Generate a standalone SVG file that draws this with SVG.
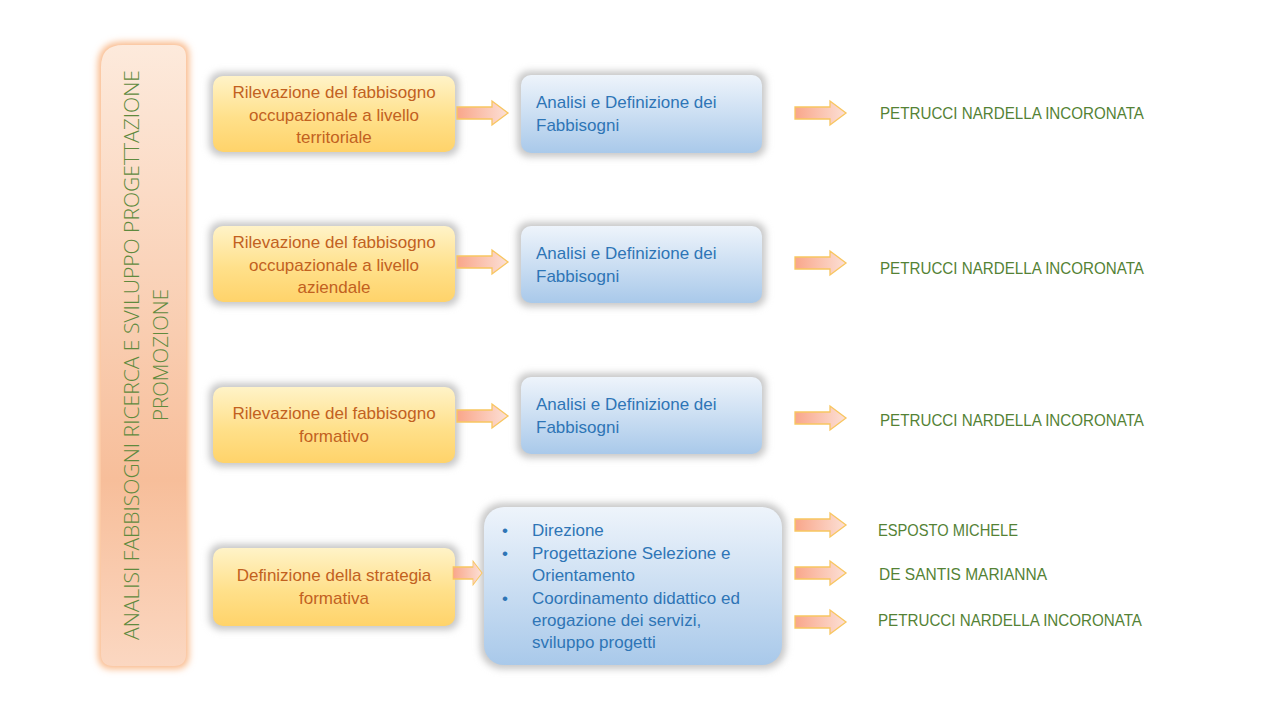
<svg xmlns="http://www.w3.org/2000/svg" width="1280" height="720" viewBox="0 0 1280 720">
<defs>
<linearGradient id="gOr" x1="0" y1="0" x2="0" y2="1">
<stop offset="0" stop-color="#FFF3C8"/><stop offset="0.55" stop-color="#FFE08A"/><stop offset="1" stop-color="#FFD36A"/>
</linearGradient>
<linearGradient id="gBl" x1="0" y1="0" x2="0" y2="1">
<stop offset="0" stop-color="#EEF4FB"/><stop offset="1" stop-color="#A9C9EA"/>
</linearGradient>
<linearGradient id="gBar" x1="0" y1="0" x2="0" y2="1">
<stop offset="0" stop-color="#FDEADC"/><stop offset="0.7" stop-color="#F7BE9A"/><stop offset="1" stop-color="#FBD7C1"/>
</linearGradient>
<linearGradient id="gAr" x1="0" y1="0" x2="1" y2="0">
<stop offset="0" stop-color="#F9A68A"/><stop offset="1" stop-color="#FCE0D6"/>
</linearGradient>
<filter id="glow" x="-20%" y="-30%" width="140%" height="160%">
<feGaussianBlur stdDeviation="3.5"/>
</filter>
<path id="arr" d="M0,-6 H35 V-12 L51,0 L35,12 V6 H0 Z"/>
</defs>
<style>
.halo{fill:#C8C8C8;filter:url(#glow)}
.or{fill:url(#gOr)}
.bl{fill:url(#gBl)}
.ar{fill:url(#gAr);stroke:#F8C660;stroke-width:1.3}
.to{font-family:"Liberation Sans",Arial,sans-serif;font-size:17px;fill:#C2611F;text-anchor:middle}
.tb{font-family:"Liberation Sans",Arial,sans-serif;font-size:17px;fill:#2E75B6}
.tn{font-family:"Liberation Sans",Arial,sans-serif;font-size:16.5px;fill:#548235}
.tl{font-family:"Open Sans","Liberation Sans",sans-serif;font-weight:300;font-size:21px;fill:#5F8A3E;text-anchor:middle}
</style>
<rect width="1280" height="720" fill="#FFFFFF"/>

<g id="bar">
<path d="M122,42 H175 Q189,42 189,56 V655 Q189,669 175,669 H112 Q98,669 98,655 V66 Q98,42 122,42 Z" fill="#F9B98A" filter="url(#glow)"/>
<path d="M123,45 H174 Q186,45 186,57 V654 Q186,666 174,666 H113 Q101,666 101,654 V67 Q101,45 123,45 Z" fill="url(#gBar)"/>
<text class="tl" transform="translate(139,355) rotate(-90)" textLength="570" lengthAdjust="spacingAndGlyphs">ANALISI FABBISOGNI RICERCA E SVILUPPO PROGETTAZIONE</text>
<text class="tl" transform="translate(168,355) rotate(-90)" textLength="132" lengthAdjust="spacingAndGlyphs">PROMOZIONE</text>
</g>

<g id="o1">
<rect class="halo" x="209" y="72" width="250" height="84" rx="12"/>
<rect class="or" x="213" y="76" width="242" height="76" rx="10"/>
<text class="to" x="334" y="98">Rilevazione del fabbisogno</text>
<text class="to" x="334" y="120.5">occupazionale a livello</text>
<text class="to" x="334" y="143">territoriale</text>
</g>
<g id="b1">
<rect class="halo" x="517" y="71" width="249" height="86" rx="12"/>
<rect class="bl" x="521" y="75" width="241" height="78" rx="10"/>
<text class="tb" x="536" y="108">Analisi e Definizione dei</text>
<text class="tb" x="536" y="131">Fabbisogni</text>
</g>
<g id="n1"><text class="tn" x="880" y="119" textLength="264" lengthAdjust="spacingAndGlyphs">PETRUCCI NARDELLA INCORONATA</text></g>

<g id="o2">
<rect class="halo" x="209" y="222" width="250" height="84" rx="12"/>
<rect class="or" x="213" y="226" width="242" height="76" rx="10"/>
<text class="to" x="334" y="248">Rilevazione del fabbisogno</text>
<text class="to" x="334" y="271">occupazionale a livello</text>
<text class="to" x="334" y="293">aziendale</text>
</g>
<g id="b2">
<rect class="halo" x="517" y="222" width="249" height="85" rx="12"/>
<rect class="bl" x="521" y="226" width="241" height="77" rx="10"/>
<text class="tb" x="536" y="259">Analisi e Definizione dei</text>
<text class="tb" x="536" y="282">Fabbisogni</text>
</g>
<g id="n2"><text class="tn" x="880" y="273.5" textLength="264" lengthAdjust="spacingAndGlyphs">PETRUCCI NARDELLA INCORONATA</text></g>

<g id="o3">
<rect class="halo" x="209" y="383" width="250" height="84" rx="12"/>
<rect class="or" x="213" y="387" width="242" height="76" rx="10"/>
<text class="to" x="334" y="419">Rilevazione del fabbisogno</text>
<text class="to" x="334" y="442">formativo</text>
</g>
<g id="b3">
<rect class="halo" x="517" y="373" width="249" height="85" rx="12"/>
<rect class="bl" x="521" y="377" width="241" height="77" rx="10"/>
<text class="tb" x="536" y="410">Analisi e Definizione dei</text>
<text class="tb" x="536" y="433">Fabbisogni</text>
</g>
<g id="n3"><text class="tn" x="880" y="425.5" textLength="264" lengthAdjust="spacingAndGlyphs">PETRUCCI NARDELLA INCORONATA</text></g>

<g id="o4">
<rect class="halo" x="209" y="544" width="250" height="86" rx="12"/>
<rect class="or" x="213" y="548" width="242" height="78" rx="10"/>
<text class="to" x="334" y="581">Definizione della strategia</text>
<text class="to" x="334" y="604">formativa</text>
</g>
<g id="b4">
<rect class="halo" x="480" y="503" width="306" height="166" rx="22"/>
<rect class="bl" x="484" y="507" width="298" height="158" rx="20"/>
<g class="tb">
<text x="502" y="536">•</text><text x="532" y="536">Direzione</text>
<text x="502" y="559">•</text><text x="532" y="559">Progettazione Selezione e</text>
<text x="532" y="581">Orientamento</text>
<text x="502" y="604">•</text><text x="532" y="604">Coordinamento didattico ed</text>
<text x="532" y="626">erogazione dei servizi,</text>
<text x="532" y="648">sviluppo progetti</text>
</g>
</g>
<g id="n4a"><text class="tn" x="878" y="535.5" textLength="140" lengthAdjust="spacingAndGlyphs">ESPOSTO MICHELE</text></g>
<g id="n4b"><text class="tn" x="879" y="579.5" textLength="168" lengthAdjust="spacingAndGlyphs">DE SANTIS MARIANNA</text></g>
<g id="n4c"><text class="tn" x="878" y="625.5" textLength="264" lengthAdjust="spacingAndGlyphs">PETRUCCI NARDELLA INCORONATA</text></g>

<g id="connectors">
<use href="#arr" class="ar" transform="translate(457,113)"/>
<use href="#arr" class="ar" transform="translate(795,113)"/>
<use href="#arr" class="ar" transform="translate(457,262)"/>
<use href="#arr" class="ar" transform="translate(795,263)"/>
<use href="#arr" class="ar" transform="translate(457,416)"/>
<use href="#arr" class="ar" transform="translate(795,418)"/>
<use href="#arr" class="ar" transform="translate(453,573) scale(0.57,1)"/>
<use href="#arr" class="ar" transform="translate(795,525)"/>
<use href="#arr" class="ar" transform="translate(795,573)"/>
<use href="#arr" class="ar" transform="translate(795,622)"/>
</g>
</svg>
